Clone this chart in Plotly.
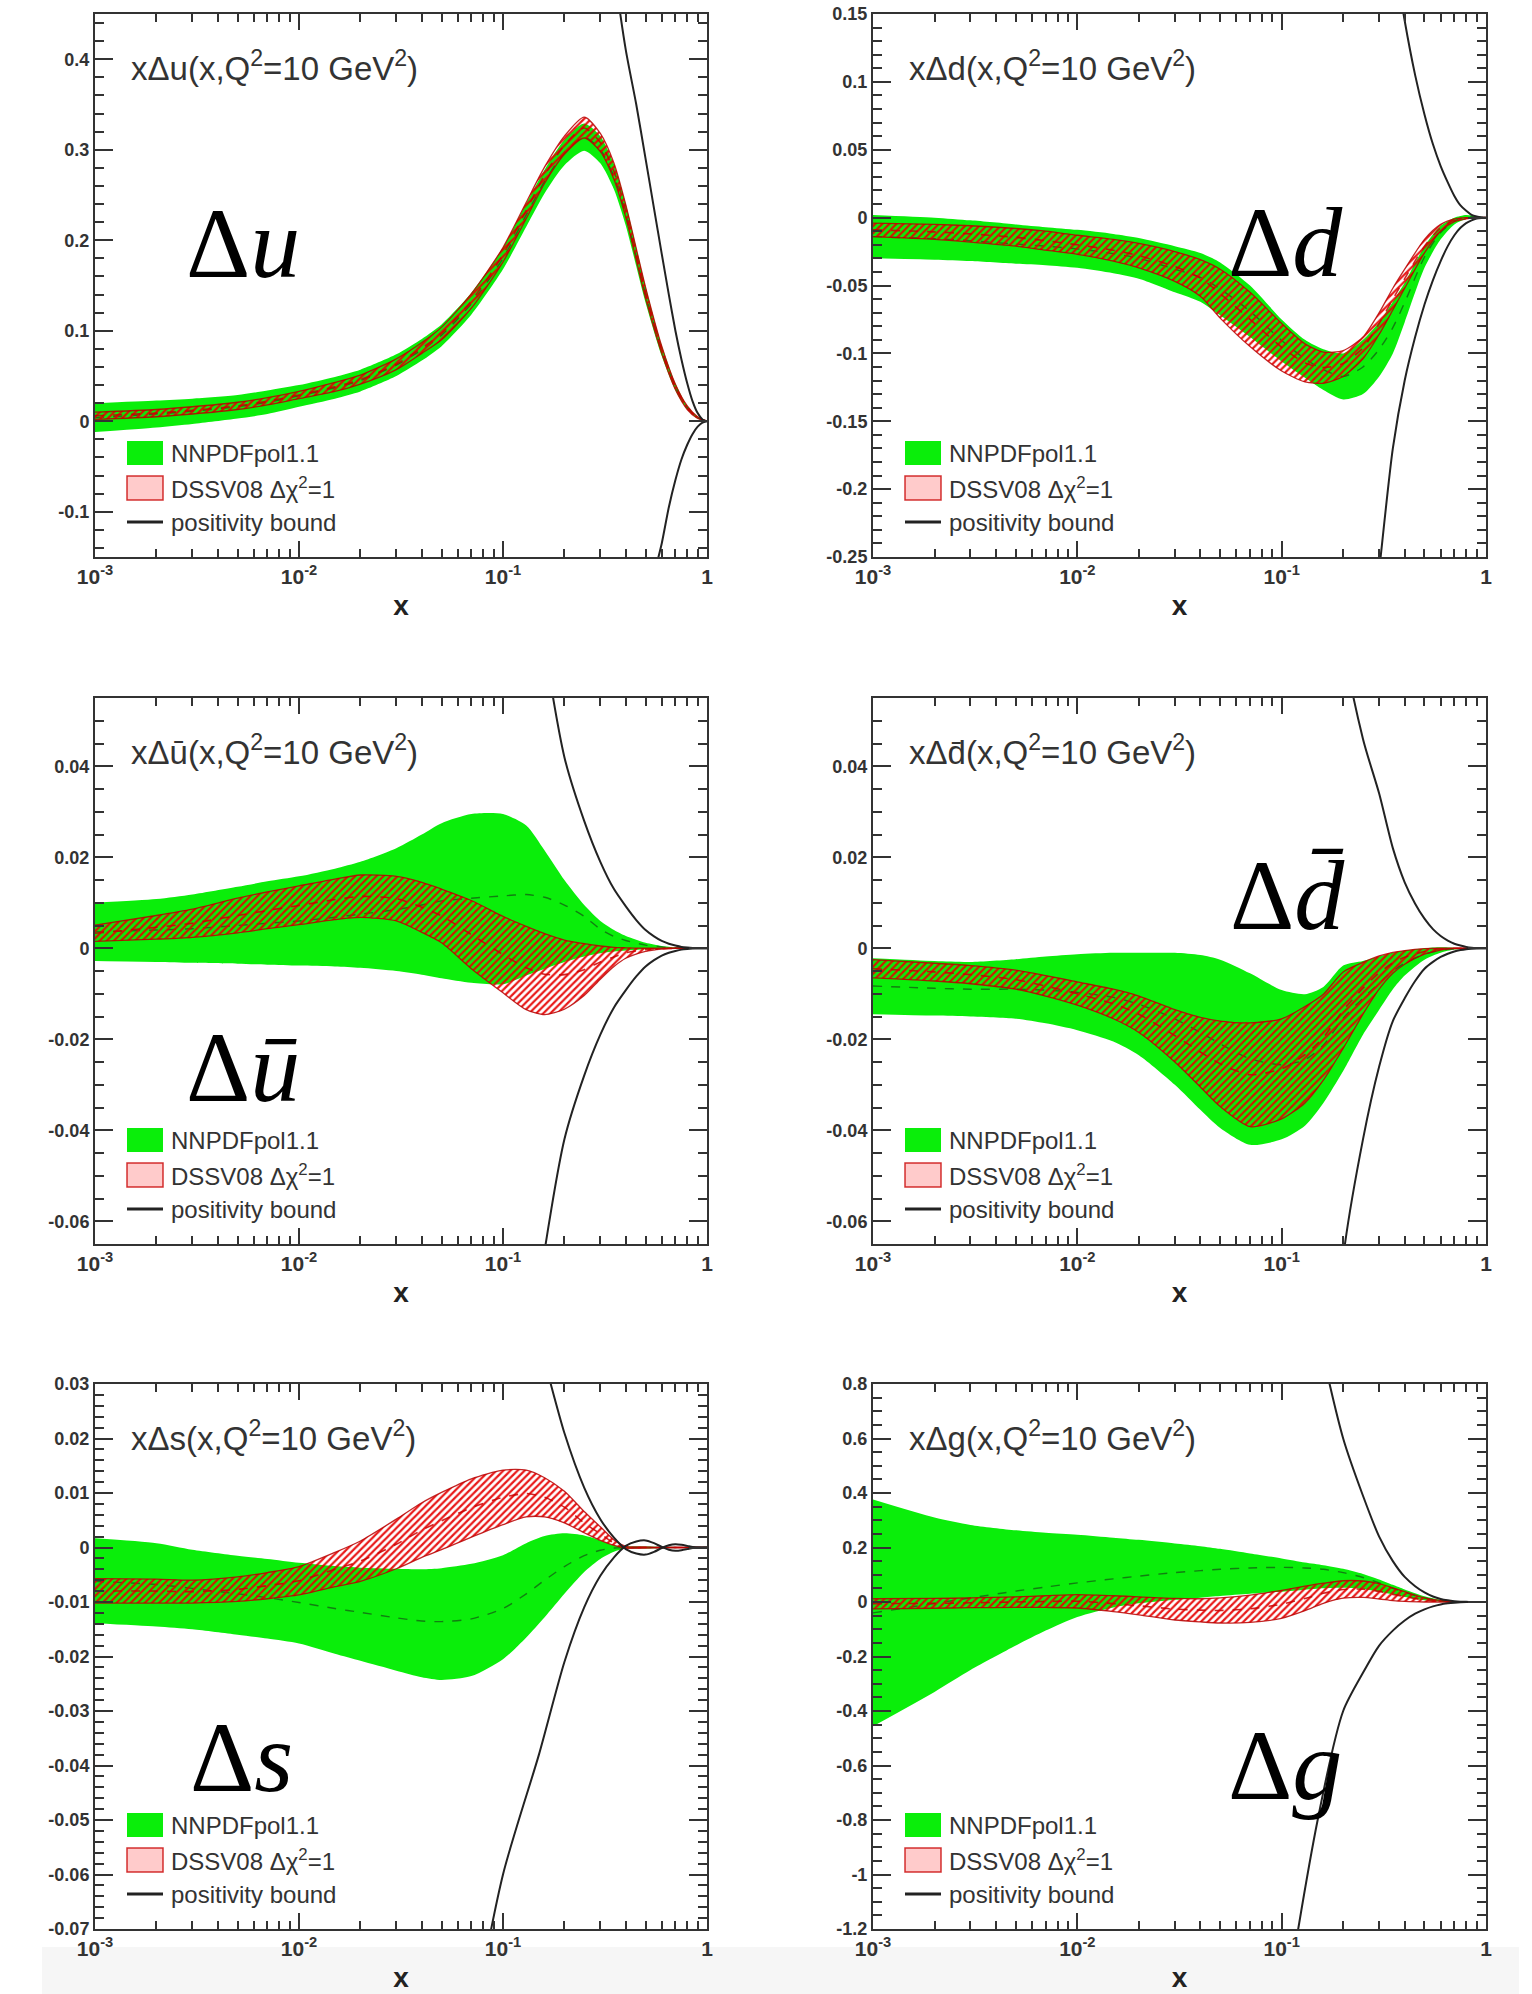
import plotly.graph_objects as go

W, H = 1532, 1994

# ---------------- data ----------------
x = [0.001, 0.002, 0.003, 0.005, 0.007, 0.01, 0.015, 0.02, 0.03, 0.04, 0.05, 0.07, 0.1,
     0.13, 0.16, 0.2, 0.25, 0.3, 0.35, 0.4, 0.5, 0.6, 0.7, 0.8, 0.9, 1.0]
bx = [0.05, 0.07, 0.1, 0.15, 0.2, 0.25, 0.3, 0.35, 0.4, 0.45, 0.5, 0.55, 0.6, 0.65, 0.7,
      0.75, 0.8, 0.85, 0.9, 0.95, 1.0]

# x Delta u
u_nn_lo = [-0.012, -0.007, -0.003, 0.003, 0.008, 0.016, 0.025, 0.033, 0.05, 0.067, 0.083, 0.118, 0.168,
           0.215, 0.252, 0.283, 0.299, 0.285, 0.256, 0.216, 0.131, 0.072, 0.034, 0.013, 0.003, 0.0]
u_nn_hi = [0.020, 0.023, 0.025, 0.029, 0.034, 0.040, 0.049, 0.057, 0.074, 0.091, 0.107, 0.142, 0.192,
           0.241, 0.278, 0.311, 0.329, 0.315, 0.284, 0.24, 0.149, 0.084, 0.042, 0.017, 0.005, 0.0]
u_nn_c = [0.004, 0.008, 0.011, 0.016, 0.021, 0.028, 0.037, 0.045, 0.062, 0.079, 0.095, 0.13, 0.18,
          0.228, 0.265, 0.297, 0.314, 0.3, 0.27, 0.228, 0.14, 0.078, 0.038, 0.015, 0.004, 0.0]
u_ds_lo = [0.002, 0.005, 0.008, 0.013, 0.018, 0.025, 0.033, 0.041, 0.057, 0.075, 0.09, 0.125, 0.176,
           0.224, 0.263, 0.295, 0.313, 0.298, 0.267, 0.225, 0.136, 0.075, 0.035, 0.013, 0.003, 0.0]
u_ds_hi = [0.010, 0.013, 0.016, 0.021, 0.026, 0.033, 0.043, 0.051, 0.069, 0.087, 0.104, 0.141, 0.192,
           0.242, 0.281, 0.315, 0.336, 0.318, 0.285, 0.239, 0.148, 0.083, 0.041, 0.017, 0.005, 0.0]
u_ds_c = [0.006, 0.009, 0.012, 0.017, 0.022, 0.029, 0.038, 0.046, 0.063, 0.081, 0.097, 0.133, 0.184,
          0.233, 0.272, 0.305, 0.324, 0.308, 0.276, 0.232, 0.142, 0.079, 0.038, 0.015, 0.004, 0.0]
u_bd_hi = [3.0, 2.5, 1.9, 1.35, 1.0, 0.78, 0.62, 0.5, 0.41, 0.35, 0.29, 0.235, 0.185, 0.14, 0.1,
           0.068, 0.042, 0.022, 0.009, 0.002, 0.0]
u_bd_lo = [-3.0, -2.5, -1.9, -1.35, -1.0, -0.78, -0.6, -0.46, -0.36, -0.28, -0.215, -0.17, -0.135,
           -0.095, -0.065, -0.042, -0.026, -0.014, -0.006, -0.0015, 0.0]

# x Delta d
d_nn_lo = [-0.030, -0.031, -0.032, -0.034, -0.035, -0.037, -0.041, -0.045, -0.055, -0.062, -0.072, -0.088,
           -0.106, -0.118, -0.127, -0.134, -0.130, -0.117, -0.100, -0.077, -0.037, -0.016, -0.005, -0.001, 0.0, 0.0]
d_nn_hi = [0.002, 0.0, -0.002, -0.005, -0.007, -0.009, -0.012, -0.015, -0.021, -0.026, -0.033, -0.050,
           -0.075, -0.090, -0.097, -0.100, -0.090, -0.077, -0.062, -0.048, -0.021, -0.006, 0.0, 0.002, 0.001, 0.0]
d_nn_c = [-0.014, -0.0155, -0.017, -0.0195, -0.021, -0.023, -0.0265, -0.030, -0.038, -0.044, -0.0525, -0.069,
          -0.0905, -0.104, -0.112, -0.117, -0.110, -0.097, -0.081, -0.0625, -0.029, -0.011, -0.0025, 0.0005, 0.0005, 0.0]
d_ds_lo = [-0.014, -0.016, -0.018, -0.021, -0.024, -0.027, -0.032, -0.037, -0.047, -0.058, -0.074, -0.095,
           -0.113, -0.121, -0.122, -0.117, -0.104, -0.086, -0.068, -0.052, -0.026, -0.010, -0.003, -0.001, 0.0, 0.0]
d_ds_hi = [-0.004, -0.005, -0.006, -0.008, -0.010, -0.013, -0.016, -0.019, -0.025, -0.031, -0.038, -0.055,
           -0.078, -0.093, -0.099, -0.098, -0.088, -0.07, -0.052, -0.038, -0.016, -0.005, -0.001, 0.0, 0.0, 0.0]
d_ds_c = [-0.009, -0.0105, -0.012, -0.0145, -0.017, -0.02, -0.024, -0.028, -0.036, -0.0445, -0.056, -0.075,
          -0.0955, -0.107, -0.1105, -0.1075, -0.096, -0.078, -0.06, -0.045, -0.021, -0.0075, -0.002, -0.0005, 0.0, 0.0]
d_bd_hi = [2.0, 1.5, 1.0, 0.7, 0.5, 0.37, 0.27, 0.2, 0.145, 0.105, 0.076, 0.054, 0.038, 0.026, 0.016,
           0.009, 0.005, 0.002, 0.0008, 0.0002, 0.0]
d_bd_lo = [-2.0, -1.5, -1.0, -0.7, -0.5, -0.37, -0.26, -0.17, -0.12, -0.088, -0.064, -0.046, -0.032,
           -0.021, -0.013, -0.0075, -0.004, -0.002, -0.0007, -0.0002, 0.0]

# x Delta ubar
ub_nn_lo = [-0.0028, -0.003, -0.0032, -0.0034, -0.0036, -0.0038, -0.004, -0.0043, -0.005, -0.0058, -0.0066,
            -0.0076, -0.0079, -0.006, -0.0045, -0.003, -0.0018, -0.0011, -0.0007, -0.0005, -0.0002, -0.0001,
            0.0, 0.0, 0.0, 0.0]
ub_nn_hi = [0.010, 0.0108, 0.0118, 0.0135, 0.0147, 0.0158, 0.0175, 0.019, 0.022, 0.025, 0.0275, 0.0295,
            0.0295, 0.027, 0.0215, 0.015, 0.0095, 0.006, 0.004, 0.0027, 0.0012, 0.0005, 0.0002, 0.0001, 0.0, 0.0]
ub_nn_c = [0.0036, 0.004, 0.0043, 0.005, 0.0055, 0.006, 0.0068, 0.0075, 0.0085, 0.0095, 0.0104, 0.011,
           0.0115, 0.0118, 0.0112, 0.0095, 0.007, 0.0042, 0.0026, 0.0017, 0.0007, 0.0003, 0.0001, 0.0, 0.0, 0.0]
ub_ds_lo = [0.0015, 0.002, 0.0024, 0.0034, 0.0043, 0.0052, 0.0063, 0.0068, 0.006, 0.0035, 0.0012, -0.0045,
            -0.0098, -0.0135, -0.0146, -0.0134, -0.0104, -0.0068, -0.004, -0.0022, -0.0007, -0.0002,
            0.0, 0.0, 0.0, 0.0]
ub_ds_hi = [0.0051, 0.0072, 0.0086, 0.011, 0.0124, 0.0137, 0.0152, 0.0161, 0.0158, 0.0145, 0.013, 0.0105,
            0.007, 0.0048, 0.0032, 0.0018, 0.001, 0.0005, 0.0002, 0.0001, 0.0, 0.0, 0.0, 0.0, 0.0, 0.0]
ub_ds_c = [0.0033, 0.0046, 0.0055, 0.0072, 0.0083, 0.0094, 0.0107, 0.0114, 0.0109, 0.009, 0.0071, 0.003,
           -0.0014, -0.0043, -0.0057, -0.0058, -0.0047, -0.003, -0.0019, -0.001, -0.0003, -0.0001,
           0.0, 0.0, 0.0, 0.0]
ub_bd_hi = [0.5, 0.3, 0.15, 0.075, 0.042, 0.028, 0.019, 0.013, 0.0092, 0.0062, 0.004, 0.0026, 0.0016,
            0.001, 0.0006, 0.0003, 0.00015, 0.00006, 0.00002, 0.0, 0.0]
ub_bd_lo = [-0.5, -0.3, -0.15, -0.075, -0.042, -0.028, -0.019, -0.013, -0.0092, -0.0062, -0.004, -0.0026,
            -0.0016, -0.001, -0.0006, -0.0003, -0.00015, -0.00006, -0.00002, 0.0, 0.0]

# x Delta dbar
db_nn_lo = [-0.0145, -0.0148, -0.015, -0.0155, -0.0165, -0.018, -0.0205, -0.0235, -0.03, -0.0355, -0.0395,
            -0.0432, -0.042, -0.039, -0.034, -0.027, -0.019, -0.0135, -0.009, -0.006, -0.0025, -0.001,
            -0.0003, -0.0001, 0.0, 0.0]
db_nn_hi = [-0.0022, -0.0028, -0.003, -0.0024, -0.0018, -0.0013, -0.001, -0.001, -0.001, -0.0015, -0.0025,
            -0.0055, -0.0092, -0.0101, -0.0085, -0.0038, -0.0028, -0.0018, -0.001, -0.0005, 0.0, 0.0002,
            0.0001, 0.0, 0.0, 0.0]
db_nn_c = [-0.0083, -0.0088, -0.009, -0.009, -0.0092, -0.0097, -0.0108, -0.0123, -0.0155, -0.0185, -0.021,
           -0.0243, -0.0256, -0.0245, -0.0213, -0.0154, -0.011, -0.0077, -0.005, -0.0033, -0.0013, -0.0004,
           -0.0001, 0.0, 0.0, 0.0]
db_ds_lo = [-0.0065, -0.0072, -0.0078, -0.009, -0.0105, -0.0125, -0.0155, -0.0185, -0.025, -0.0305, -0.0348,
            -0.0392, -0.0375, -0.034, -0.029, -0.022, -0.0145, -0.009, -0.0055, -0.0035, -0.0013, -0.0004,
            -0.0001, 0.0, 0.0, 0.0]
db_ds_hi = [-0.0025, -0.0033, -0.0038, -0.0048, -0.006, -0.0074, -0.009, -0.0105, -0.0135, -0.0152, -0.016,
            -0.0164, -0.0155, -0.0128, -0.0101, -0.0052, -0.0031, -0.0017, -0.0009, -0.0005, -0.0001, 0.0,
            0.0, 0.0, 0.0, 0.0]
db_ds_c = [-0.0045, -0.0052, -0.0058, -0.0069, -0.0083, -0.01, -0.0122, -0.0145, -0.0192, -0.0228, -0.0254,
           -0.0278, -0.0265, -0.0234, -0.0196, -0.0136, -0.0088, -0.0054, -0.0032, -0.002, -0.0007, -0.0002,
           0.0, 0.0, 0.0, 0.0]
db_bd_hi = [1.2, 0.7, 0.4, 0.16, 0.068, 0.046, 0.034, 0.022, 0.0145, 0.0098, 0.0065, 0.0042, 0.0027,
            0.0017, 0.001, 0.0006, 0.0003, 0.00012, 0.00004, 0.00001, 0.0]
db_bd_lo = [-1.2, -0.7, -0.4, -0.14, -0.068, -0.042, -0.026, -0.016, -0.011, -0.0072, -0.0045, -0.003,
            -0.0019, -0.0012, -0.0007, -0.0004, -0.0002, -0.0001, -0.00003, 0.0, 0.0]

# x Delta s
s_nn_lo = [-0.0139, -0.0145, -0.015, -0.016, -0.0167, -0.0176, -0.0195, -0.0208, -0.0226, -0.0238, -0.0243,
           -0.0236, -0.0205, -0.0165, -0.0128, -0.0085, -0.0045, -0.0021, -0.0008, -0.0002, -0.0002, -0.0001,
           -0.0001, 0.0, 0.0, 0.0]
s_nn_hi = [0.0017, 0.0008, -0.0004, -0.0015, -0.0021, -0.0028, -0.0034, -0.0037, -0.0039, -0.004, -0.0038,
           -0.003, -0.0014, 0.0008, 0.0021, 0.0026, 0.0022, 0.0013, 0.0004, 0.0002, 0.0002, 0.0001, 0.0001,
           0.0, 0.0, 0.0]
s_nn_c = [-0.0062, -0.0068, -0.0075, -0.0085, -0.0092, -0.0101, -0.0112, -0.0119, -0.0129, -0.0135, -0.0136,
          -0.0131, -0.0112, -0.0085, -0.006, -0.0035, -0.0015, -0.0005, -0.0001, 0.0, 0.0, 0.0, 0.0, 0.0, 0.0, 0.0]
s_ds_lo = [-0.0102, -0.0102, -0.0102, -0.0099, -0.0094, -0.0087, -0.0072, -0.0062, -0.0039, -0.0018, -0.0004,
           0.0019, 0.0042, 0.0056, 0.0056, 0.0045, 0.0027, 0.0013, 0.0004, -0.0001, -0.0001, 0.0, 0.0, 0.0,
           0.0, 0.0]
s_ds_hi = [-0.0057, -0.0058, -0.006, -0.0054, -0.0046, -0.0035, -0.0009, 0.0012, 0.0052, 0.0082, 0.0101,
           0.0126, 0.0142, 0.0142, 0.0128, 0.0103, 0.0066, 0.0038, 0.0014, 0.0002, 0.0001, 0.0, 0.0, 0.0,
           0.0, 0.0]
s_ds_c = [-0.008, -0.008, -0.0081, -0.0077, -0.007, -0.0061, -0.004, -0.0025, 0.0006, 0.0032, 0.0049, 0.0073,
          0.0092, 0.0099, 0.0092, 0.0074, 0.0045, 0.0025, 0.0008, 0.0, 0.0, 0.0, 0.0, 0.0, 0.0, 0.0]
s_bd_hi = [0.14, 0.09, 0.06, 0.038, 0.021, 0.011, 0.0052, 0.0018, -0.0003, -0.0011, -0.0013, -0.0008,
           -0.0001, 0.0004, 0.0006, 0.0005, 0.0003, 0.0001, 0.0, 0.0, 0.0]
s_bd_lo = [-0.14, -0.09, -0.06, -0.038, -0.021, -0.011, -0.0052, -0.0018, 0.0003, 0.0011, 0.0013, 0.0008,
           0.0001, -0.0004, -0.0006, -0.0005, -0.0003, -0.0001, 0.0, 0.0, 0.0]

# x Delta g
g_nn_lo = [-0.456, -0.33, -0.25, -0.16, -0.105, -0.055, -0.02, -0.005, 0.008, 0.016, 0.022, 0.03, 0.038,
           0.045, 0.05, 0.052, 0.048, 0.038, 0.028, 0.018, 0.006, 0.001, 0.0, 0.0, 0.0, 0.0]
g_nn_hi = [0.376, 0.31, 0.283, 0.263, 0.254, 0.247, 0.236, 0.228, 0.215, 0.205, 0.195, 0.178, 0.16,
           0.145, 0.135, 0.122, 0.103, 0.083, 0.063, 0.046, 0.021, 0.008, 0.002, 0.0005, 0.0, 0.0]
g_nn_c = [-0.04, -0.005, 0.015, 0.04, 0.055, 0.07, 0.085, 0.095, 0.108, 0.115, 0.12, 0.125, 0.127,
          0.125, 0.12, 0.108, 0.09, 0.07, 0.05, 0.035, 0.015, 0.005, 0.001, 0.0, 0.0, 0.0]
g_ds_lo = [-0.025, -0.023, -0.021, -0.02, -0.02, -0.022, -0.035, -0.047, -0.066, -0.073, -0.077, -0.075,
           -0.06, -0.032, -0.005, 0.014, 0.017, 0.011, 0.005, 0.002, 0.0, 0.0, 0.0, 0.0, 0.0, 0.0]
g_ds_hi = [0.012, 0.013, 0.015, 0.019, 0.023, 0.027, 0.023, 0.019, 0.013, 0.012, 0.015, 0.025, 0.043,
           0.058, 0.069, 0.078, 0.077, 0.067, 0.052, 0.038, 0.015, 0.005, 0.001, 0.0, 0.0, 0.0]
g_ds_c = [-0.006, -0.005, -0.003, 0.0, 0.002, 0.003, -0.006, -0.014, -0.026, -0.03, -0.031, -0.025,
          -0.008, 0.013, 0.032, 0.046, 0.047, 0.039, 0.028, 0.02, 0.007, 0.002, 0.0, 0.0, 0.0, 0.0]
g_bd_hi = [5.0, 3.0, 1.8, 1.0, 0.6, 0.39, 0.24, 0.15, 0.092, 0.058, 0.035, 0.02, 0.011, 0.006, 0.003,
           0.0013, 0.0005, 0.0002, 0.0, 0.0, 0.0]
g_bd_lo = [-5.0, -3.0, -1.6, -0.8, -0.4, -0.26, -0.16, -0.105, -0.068, -0.043, -0.027, -0.016, -0.009,
           -0.005, -0.0025, -0.001, -0.0004, -0.0001, 0.0, 0.0, 0.0]

# tick labels
x_tick_vals = [0.001, 0.01, 0.1, 1.0]
x_tick_text = ["10<sup>-3</sup>", "10<sup>-2</sup>", "10<sup>-1</sup>", "1"]
x_minor_vals = [m * d for d in (0.001, 0.01, 0.1) for m in range(2, 10)]

u_ticks = [-0.1, 0.0, 0.1, 0.2, 0.3, 0.4]
u_tick_text = ["-0.1", "0", "0.1", "0.2", "0.3", "0.4"]
d_ticks = [-0.25, -0.2, -0.15, -0.1, -0.05, 0.0, 0.05, 0.1, 0.15]
d_tick_text = ["-0.25", "-0.2", "-0.15", "-0.1", "-0.05", "0", "0.05", "0.1", "0.15"]
sea_ticks = [-0.06, -0.04, -0.02, 0.0, 0.02, 0.04]
sea_tick_text = ["-0.06", "-0.04", "-0.02", "0", "0.02", "0.04"]
s_ticks = [-0.07, -0.06, -0.05, -0.04, -0.03, -0.02, -0.01, 0.0, 0.01, 0.02, 0.03]
s_tick_text = ["-0.07", "-0.06", "-0.05", "-0.04", "-0.03", "-0.02", "-0.01", "0", "0.01", "0.02", "0.03"]
g_ticks = [-1.2, -1.0, -0.8, -0.6, -0.4, -0.2, 0.0, 0.2, 0.4, 0.6, 0.8]
g_tick_text = ["-1.2", "-1", "-0.8", "-0.6", "-0.4", "-0.2", "0", "0.2", "0.4", "0.6", "0.8"]

titles = ["xΔu(x,Q<sup>2</sup>=10 GeV<sup>2</sup>)",
          "xΔd(x,Q<sup>2</sup>=10 GeV<sup>2</sup>)",
          "xΔū(x,Q<sup>2</sup>=10 GeV<sup>2</sup>)",
          "xΔd\u0304(x,Q<sup>2</sup>=10 GeV<sup>2</sup>)",
          "xΔs(x,Q<sup>2</sup>=10 GeV<sup>2</sup>)",
          "xΔg(x,Q<sup>2</sup>=10 GeV<sup>2</sup>)"]
big_labels = ["Δ<i>u</i>", "Δ<i>d</i>", "Δ<i>ū</i>", "Δ<i>d\u0304</i>", "Δ<i>s</i>", "Δ<i>g</i>"]
legend_names = ["NNPDFpol1.1", "DSSV08 Δχ<sup>2</sup>=1", "positivity bound"]

# ---------------- layout geometry (pixels) ----------------
frames = [(95, 14, 707, 557), (873, 14, 1486, 557),
          (95, 698, 707, 1244), (873, 698, 1486, 1244),
          (95, 1384, 707, 1929), (873, 1384, 1486, 1929)]
big_pos = [(148, 229), (412, 228), (148, 369), (414, 198), (146, 373), (412, 381)]

panels = [
    dict(nn=(u_nn_lo, u_nn_hi, u_nn_c), ds=(u_ds_lo, u_ds_hi, u_ds_c), bd=(u_bd_hi, u_bd_lo),
         yr=[-0.15, 0.45], yt=u_ticks, ytt=u_tick_text, minor=0.02),
    dict(nn=(d_nn_lo, d_nn_hi, d_nn_c), ds=(d_ds_lo, d_ds_hi, d_ds_c), bd=(d_bd_hi, d_bd_lo),
         yr=[-0.25, 0.15], yt=d_ticks, ytt=d_tick_text, minor=0.01),
    dict(nn=(ub_nn_lo, ub_nn_hi, ub_nn_c), ds=(ub_ds_lo, ub_ds_hi, ub_ds_c), bd=(ub_bd_hi, ub_bd_lo),
         yr=[-0.065, 0.055], yt=sea_ticks, ytt=sea_tick_text, minor=0.005),
    dict(nn=(db_nn_lo, db_nn_hi, db_nn_c), ds=(db_ds_lo, db_ds_hi, db_ds_c), bd=(db_bd_hi, db_bd_lo),
         yr=[-0.065, 0.055], yt=sea_ticks, ytt=sea_tick_text, minor=0.005),
    dict(nn=(s_nn_lo, s_nn_hi, s_nn_c), ds=(s_ds_lo, s_ds_hi, s_ds_c), bd=(s_bd_hi, s_bd_lo),
         yr=[-0.07, 0.03], yt=s_ticks, ytt=s_tick_text, minor=0.002),
    dict(nn=(g_nn_lo, g_nn_hi, g_nn_c), ds=(g_ds_lo, g_ds_hi, g_ds_c), bd=(g_bd_hi, g_bd_lo),
         yr=[-1.2, 0.8], yt=g_ticks, ytt=g_tick_text, minor=0.05),
]

GREEN = "#0AEE0A"
AX = "#333333"
SANS = "Liberation Sans, Arial, Helvetica, sans-serif"
SERIF = "Liberation Serif, Times New Roman, serif"


def px(v):
    return v / W


def py(v):
    return 1 - v / H


def bold(labels):
    return ["<b>" + t + "</b>" for t in labels]


fig = go.Figure()
layout = dict(template="none", width=W, height=H, margin=dict(l=0, r=0, t=0, b=0, autoexpand=False),
              paper_bgcolor="white", plot_bgcolor="white", showlegend=False)
annotations = []
shapes = [dict(type="rect", xref="paper", yref="paper", x0=px(42), x1=px(1519), y0=0, y1=py(1947),
               fillcolor="#f6f6f6", line=dict(width=0), layer="below")]

for i, p in enumerate(panels):
    n = "" if i == 0 else str(i + 1)
    xa, ya = "x" + n, "y" + n
    L, T, R, B = frames[i]
    spl = dict(shape="spline", smoothing=0.7)
    nn_lo, nn_hi, nn_c = p["nn"]
    ds_lo, ds_hi, ds_c = p["ds"]
    bd_hi, bd_lo = p["bd"]

    fig.add_trace(go.Scatter(x=x, y=nn_lo, xaxis=xa, yaxis=ya, mode="lines",
                             line=dict(width=0, color=GREEN, **spl), hoverinfo="skip"))
    fig.add_trace(go.Scatter(x=x, y=nn_hi, xaxis=xa, yaxis=ya, mode="lines", fill="tonexty",
                             fillcolor=GREEN, line=dict(width=0, color=GREEN, **spl),
                             name=legend_names[0]))
    fig.add_trace(go.Scatter(x=x, y=nn_c, xaxis=xa, yaxis=ya, mode="lines",
                             line=dict(width=1.4, color="rgba(20,90,20,0.75)", dash="dash", **spl),
                             hoverinfo="skip"))
    fig.add_trace(go.Scatter(x=x, y=ds_lo, xaxis=xa, yaxis=ya, mode="lines",
                             line=dict(width=1.3, color="rgba(185,0,0,0.85)", **spl), hoverinfo="skip"))
    fig.add_trace(go.Scatter(x=x, y=ds_hi, xaxis=xa, yaxis=ya, mode="lines", fill="tonexty",
                             fillcolor="rgba(255,255,255,0)",
                             fillpattern=dict(shape="/", fgcolor="rgba(230,0,0,0.9)",
                                              bgcolor="rgba(255,255,255,0)", size=5, solidity=0.45),
                             line=dict(width=1.3, color="rgba(185,0,0,0.85)", **spl),
                             name=legend_names[1]))
    fig.add_trace(go.Scatter(x=x, y=ds_c, xaxis=xa, yaxis=ya, mode="lines",
                             line=dict(width=1.6, color="rgba(200,0,0,0.85)", dash="dash", **spl),
                             hoverinfo="skip"))
    fig.add_trace(go.Scatter(x=bx, y=bd_hi, xaxis=xa, yaxis=ya, mode="lines",
                             line=dict(width=2, color="#222", **spl), name=legend_names[2]))
    fig.add_trace(go.Scatter(x=bx, y=bd_lo, xaxis=xa, yaxis=ya, mode="lines",
                             line=dict(width=2, color="#222", **spl), hoverinfo="skip"))

    layout["xaxis" + n] = dict(
        type="log", range=[-3, 0], domain=[px(L), px(R)], anchor=ya, automargin=False,
        tickmode="array", tickvals=x_tick_vals, ticktext=bold(x_tick_text),
        ticks="inside", ticklen=16, tickwidth=1.5, tickcolor=AX,
        showline=True, linecolor=AX, linewidth=2, mirror="allticks",
        showgrid=False, zeroline=False,
        minor=dict(tickmode="array", tickvals=x_minor_vals, ticks="inside", ticklen=8,
                   tickwidth=1.5, tickcolor=AX, showgrid=False),
        tickfont=dict(family=SANS, size=21, color=AX),
        title=dict(text="<b>x</b>", font=dict(family=SANS, size=28, color="#222"), standoff=8),
    )
    layout["yaxis" + n] = dict(
        range=p["yr"], domain=[py(B), py(T)], anchor=xa, automargin=False,
        tickmode="array", tickvals=p["yt"], ticktext=bold(p["ytt"]),
        ticks="inside", ticklen=18, tickwidth=1.5, tickcolor=AX,
        showline=True, linecolor=AX, linewidth=2, mirror="allticks",
        showgrid=False, zeroline=False,
        minor=dict(tickmode="linear", tick0=0, dtick=p["minor"], ticks="inside", ticklen=9,
                   tickwidth=1.5, tickcolor=AX, showgrid=False),
        tickfont=dict(family=SANS, size=18, color=AX),
    )

    # panel title
    annotations.append(dict(text=titles[i], xref="paper", yref="paper", x=px(L + 34), y=py(T + 52),
                            xanchor="left", yanchor="middle", showarrow=False,
                            font=dict(family=SANS, size=33, color="#333")))
    # big label
    bxp, byp = big_pos[i]
    annotations.append(dict(text=big_labels[i], xref="paper", yref="paper", x=px(L + bxp),
                            y=py(T + byp), xanchor="center", yanchor="middle", showarrow=False,
                            font=dict(family=SERIF, size=100, color="black")))
    # legend (drawn in-panel like the original ROOT legend)
    rows = [B - 104, B - 69, B - 35]
    shapes.append(dict(type="rect", xref="paper", yref="paper", x0=px(L + 32), x1=px(L + 68),
                       y0=py(rows[0] + 12), y1=py(rows[0] - 12), fillcolor=GREEN,
                       line=dict(width=0)))
    shapes.append(dict(type="rect", xref="paper", yref="paper", x0=px(L + 32), x1=px(L + 68),
                       y0=py(rows[1] + 12), y1=py(rows[1] - 12), fillcolor="rgba(255,140,140,0.45)",
                       line=dict(width=1.5, color="rgba(200,0,0,0.8)")))
    shapes.append(dict(type="line", xref="paper", yref="paper", x0=px(L + 32), x1=px(L + 68),
                       y0=py(rows[2]), y1=py(rows[2]), line=dict(width=3, color="#222")))
    for r, name in zip(rows, legend_names):
        annotations.append(dict(text=name, xref="paper", yref="paper", x=px(L + 74), y=py(r),
                                xanchor="left", yanchor="middle", showarrow=False,
                                font=dict(family=SANS, size=24, color="#333")))

layout["annotations"] = annotations
layout["shapes"] = shapes
fig.update_layout(**layout)
fig.write_html("out.html")
